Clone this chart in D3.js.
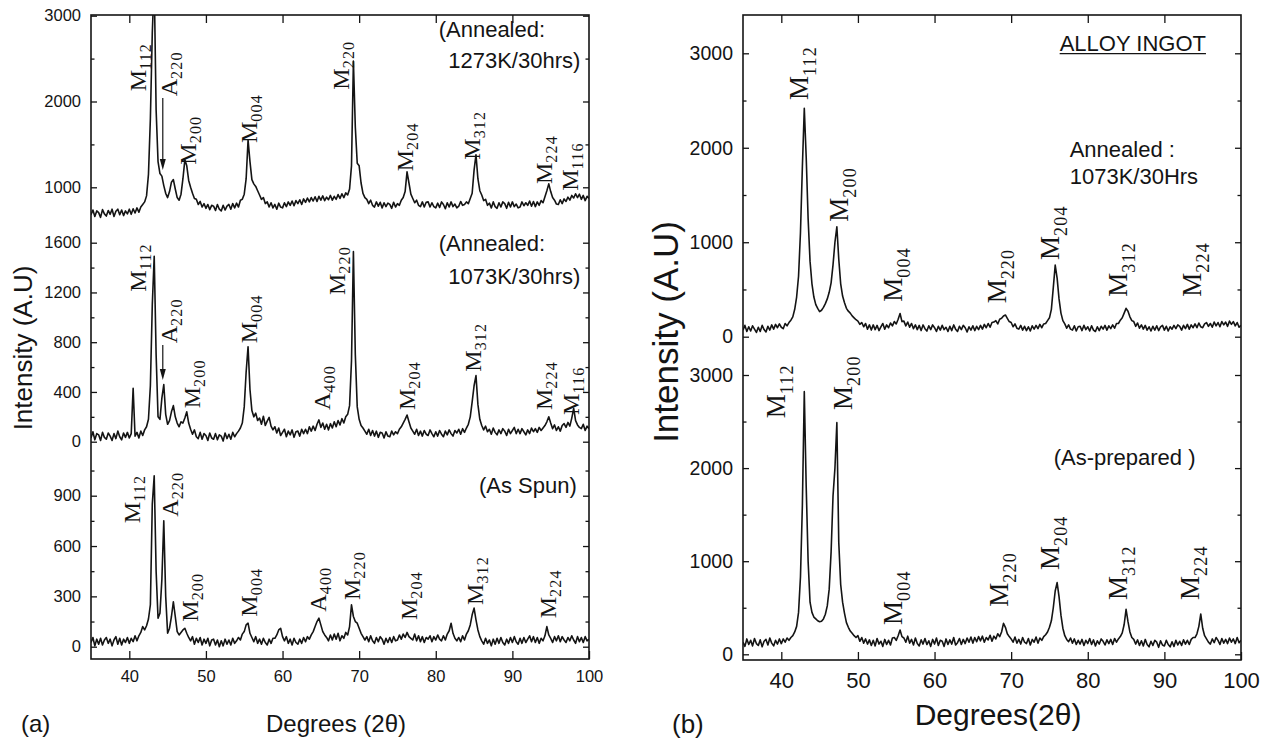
<!DOCTYPE html>
<html><head><meta charset="utf-8">
<script src="https://cdn.jsdelivr.net/npm/d3@7"></script>
<style>body{margin:0;background:#fff}svg{display:block}</style>
</head><body>
<svg id="c" width="1270" height="744"></svg>
<script>
// ---- sampling grid (2theta, degrees) ----
const thetaStart = 35, thetaStep = 0.25, nPoints = 261;
const twoTheta = d3.range(nPoints).map(i => thetaStart + i * thetaStep);

// ---- (a) Annealed 1273K/30hrs ----
const a1273 = [
680,735,660,725, 705,650,740,690, 665,730,685,745, 660,720,745,680, 735,670,725,690,
745,685,750,700, 760,710,770,800, 830,900,1150,1800, 2800,3400,1900,1300, 1160,1130,1020,930,
880,950,1060,1090, 980,880,850,920, 1100,1320,1250,1080, 1000,930,870,860, 800,835,770,810,
755,800,740,790, 780,730,800,745, 725,790,735,780, 800,745,810,760, 815,770,850,860,
920,1100,1550,1300, 1090,1040,1010,960, 910,860,880,810, 830,770,820,760, 800,745,815,770,
760,820,775,830, 790,840,785,845, 810,855,800,865, 825,875,830,880, 840,890,835,895,
850,900,845,885, 855,905,850,895, 860,915,870,925, 880,935,910,980, 1250,2470,1700,1280,
1250,1050,930,880, 860,810,850,790, 770,830,780,825, 760,820,775,815, 800,755,825,770,
810,790,850,880, 950,1180,1050,920, 870,820,850,790, 775,830,770,825, 830,770,820,775,
760,815,765,830, 800,750,820,770, 830,775,805,760, 780,835,790,800, 830,810,870,930,
1200,1380,1100,960, 910,845,860,790, 815,760,830,775, 755,820,770,830, 810,755,825,770,
830,775,805,760, 770,830,785,820, 790,840,780,835, 775,830,790,845, 820,890,960,1040,
950,880,850,805, 800,855,810,865, 835,885,850,905, 875,925,880,920, 860,905,845,895,
870];

// ---- (a) Annealed 1073K/30hrs ----
const a1073 = [
30,80,15,65, 55,10,75,35, 20,70,45,10, 65,25,85,40, 15,70,35,75,
30,65,430,45, 75,30,85,50, 95,120,180,450, 1100,1490,700,200, 180,350,460,220,
140,170,240,290, 200,150,120,160, 150,190,240,150, 100,60,95,40, 25,75,20,65,
50,10,70,30, 20,65,15,55, 45,5,70,25, 60,20,75,40, 65,85,110,150,
280,560,764,420, 250,200,230,170, 190,140,205,130, 165,195,125,95, 120,70,110,50,
75,100,40,85, 55,95,35,80, 85,45,100,65, 100,65,120,85, 125,90,140,175,
115,150,100,140, 95,145,110,160, 120,170,135,185, 150,200,220,290, 650,1528,700,280,
180,130,110,85, 60,100,50,90, 45,85,35,75, 70,30,80,45, 40,85,55,80,
65,100,120,150, 180,214,160,110, 85,60,100,50, 85,45,90,60, 50,95,65,40,
80,45,90,60, 40,85,55,95, 65,45,90,70, 100,60,105,75, 110,140,200,320,
450,531,300,180, 130,95,125,80, 100,60,110,75, 55,95,65,105, 85,50,100,65,
90,115,65,100, 65,105,80,55, 95,65,110,80, 105,75,115,90, 110,130,160,200,
150,105,135,90, 120,85,130,145, 115,155,125,190, 268,170,135,115, 105,140,90,125,
105];

// ---- (a) As spun ----
const aSpun = [
25,55,5,45, 15,50,10,40, 55,20,45,5, 40,60,15,50, 10,45,25,55,
20,50,30,65, 35,65,85,120, 100,125,165,250, 850,1018,450,170, 200,400,750,300,
80,110,180,268, 180,90,70,85, 100,110,80,55, 35,60,15,50, 25,55,10,45,
20,50,5,40, 45,10,40,0, 35,5,45,15, 40,10,50,20, 35,55,40,75,
90,130,140,80, 55,30,60,20, 45,15,50,25, 10,45,20,50, 50,70,100,110,
60,35,60,20, 45,10,50,25, 15,45,20,55, 30,60,45,70, 90,120,150,170,
130,90,70,55, 35,70,40,75, 45,80,35,65, 50,85,70,120, 250,180,150,140,
110,80,60,40, 60,30,65,35, 20,55,30,60, 45,15,50,25, 55,25,60,35,
40,70,45,75, 55,85,60,50, 40,75,35,65, 30,60,25,55, 45,65,30,60,
40,70,45,35, 65,40,75,95, 140,80,50,35, 55,30,65,40, 75,95,130,190,
230,160,100,60, 35,15,50,20, 40,5,45,15, 50,20,55,25, 10,45,20,55,
25,60,30,15, 50,20,55,25, 45,65,30,60, 25,55,20,50, 35,65,120,70,
50,25,60,35, 65,30,60,40, 25,55,35,65, 40,20,60,30, 55,25,60,35,
45];

// ---- (b) Alloy ingot, annealed 1073K/30Hrs ----
const bAnnealed = [
70,120,55,105, 60,115,80,45, 100,55,120,75, 50,110,70,125, 80,130,95,135,
100,85,140,115, 150,175,210,290, 420,640,1100,1800, 2417,1900,1250,800, 560,420,340,300,
265,280,310,350, 400,470,570,760, 1000,1164,820,560, 430,360,300,270, 250,220,200,180,
165,130,150,105, 140,80,125,70, 125,75,120,65, 105,140,80,125, 95,145,115,160,
135,185,245,160, 165,115,155,100, 140,85,125,75, 120,65,125,85, 60,115,75,125,
95,55,110,70, 120,75,100,55, 110,65,125,80, 55,110,75,120, 95,50,105,70,
115,65,110,75, 120,80,130,95, 140,100,150,155, 170,135,185,195, 220,230,195,160,
150,105,135,90, 80,120,70,110, 65,105,60,115, 80,120,85,130, 95,135,140,170,
200,290,520,758, 620,400,250,170, 135,90,125,80, 70,115,60,105, 110,65,120,75,
105,60,115,70, 55,105,65,110, 80,120,70,115, 85,125,90,140, 140,175,200,250,
300,270,210,170, 160,110,145,90, 125,80,120,70, 105,60,110,70, 115,65,105,120,
70,110,60,105, 80,120,85,125, 110,70,120,85, 130,80,125,95, 135,95,145,105,
95,135,150,110, 140,100,155,115, 150,105,160,125, 155,110,165,130, 160,115,150,100,
120];

// ---- (b) Alloy ingot, as-prepared ----
const bPrepared = [
130,85,165,105, 150,90,170,115, 95,155,80,140, 160,100,175,120, 90,150,110,165,
115,165,130,175, 150,180,200,240, 300,450,830,1600, 2821,1800,1000,560, 450,400,380,360,
350,355,380,430, 520,700,1100,1700, 2000,2488,1200,750, 560,440,340,290, 250,225,200,180,
200,140,180,120, 165,110,155,95, 150,90,170,110, 140,85,160,105, 150,100,175,180,
150,200,261,190, 175,130,195,120, 160,100,175,115, 90,155,110,170, 105,145,85,160,
110,175,95,150, 140,85,165,105, 155,110,180,100, 125,170,105,160, 115,175,130,185,
120,180,135,190, 145,195,130,180, 155,205,140,195, 165,220,190,240, 333,290,220,190,
165,130,185,120, 160,110,180,130, 115,170,100,160, 130,185,120,175, 150,190,210,240,
290,360,500,680, 770,620,420,280, 200,160,135,175, 120,165,105,150, 110,160,95,150,
115,170,105,155, 90,145,110,165, 140,100,155,115, 160,105,170,130, 165,190,230,320,
483,350,240,180, 160,110,155,95, 145,90,160,105, 80,140,95,150, 130,75,145,100,
90,150,105,80, 135,85,150,100, 140,95,155,110, 150,105,160,180, 180,220,300,433,
280,200,165,130, 110,165,125,180, 150,105,170,120, 160,115,175,130, 165,115,180,125,
150];

// ---- tick values ----
const xTicks = [40,50,60,70,80,90,100];
const aTopMajor = [1000,2000,3000], aTopMinor = [1500,2500];
const aMidMajor = [0,400,800,1200,1600], aMidMinor = [200,600,1000,1400];
const aBotMajor = [0,300,600,900], aBotMinor = [150,450,750,1050];
const bMajor = [0,1000,2000,3000], bMinor = [500,1500,2500];

// ---- peak labels: [letter, index, 2theta of glyph centre, intensity at text foot] ----
const lblA1273 = [["M","112",41.13,2119],["A","220",45.13,2061],["M","200",47.62,1264],["M","004",55.62,1516],
  ["M","220",67.6,2138],["M","204",76.03,1187],["M","312",84.73,1322],["M","224",94.12,1038],["M","116",97.52,960]];
const lblA1073 = [["M","112",41.13,1206],["A","220",45.13,791],["M","200",48.13,268],["M","004",55.62,791],
  ["A","400",65.12,255],["M","220",67.13,1179],["M","204",76.23,255],["M","312",84.88,563],["M","224",94.12,255],["M","116",97.63,215]];
const lblASpun = [["M","112",40.38,736],["A","220",45.38,775],["M","200",47.97,149],["M","004",55.62,179],
  ["A","400",64.63,209],["M","220",69.13,278],["M","204",76.53,159],["M","312",85.12,249],["M","224",94.65,169]];
const lblBAnn = [["M","112",42.26,2505],["M","200",47.5,1217],["M","004",54.58,370],["M","220",68.2,353],
  ["M","204",75.02,812],["M","312",83.93,423],["M","224",93.63,423]];
const lblBPrep = [["M","112",39.37,2535],["M","200",48.03,2624],["M","004",54.58,315],["M","220",68.46,511],
  ["M","204",75.02,905],["M","312",83.93,583],["M","224",93.37,583]];

// arrows: [2theta, intensity from, intensity to]
const arrowA1273 = [[44.37,2040,1202]];
const arrowA1073 = [[44.37,777,496]];

// ---- drawing ----
const svg = d3.select("#c");
const SANS = "'Liberation Sans', Arial, Helvetica, sans-serif";
const SERIF = "'Liberation Serif', 'Times New Roman', serif";
const INK = "#141414";

const xA = d3.scaleLinear().domain([35,100]).range([91,589]);
const yATop = d3.scaleLinear().domain([1000,3000]).range([187.3,15.7]);
const yAMid = d3.scaleLinear().domain([0,1600]).range([441.7,242.7]);
const yABot = d3.scaleLinear().domain([0,900]).range([646.7,495.7]);
const xB = d3.scaleLinear().domain([35,100]).range([743,1241]);
const yBTop = d3.scaleLinear().domain([0,3000]).range([336.7,53.3]);
const yBBot = d3.scaleLinear().domain([0,3000]).range([654.3,375]);

const defs = svg.append("defs");
function makeClip(id, x, top, bottom) {
  const [x0,x1] = x.range();
  defs.append("clipPath").attr("id", id).append("rect")
    .attr("x", x0).attr("y", top).attr("width", x1-x0).attr("height", bottom-top);
}
makeClip("clipA", xA, 15, 659);
makeClip("clipB", xB, 15, 660);

function series(x, y, vals, clip) {
  const line = d3.line().x((d,i) => x(twoTheta[i])).y(d => y(d));
  svg.append("path").datum(vals).attr("clip-path", `url(#${clip})`)
    .attr("d", line).attr("fill","none").attr("stroke", INK)
    .attr("stroke-width", 1.6).attr("stroke-linejoin","round");
}

function styleAxis(g, fs) {
  g.select(".domain").remove();
  g.attr("font-family", SANS).attr("font-size", fs);
  g.selectAll("line").attr("stroke", INK).attr("stroke-width", 1.3);
  g.selectAll("text").attr("fill", INK);
}

function yAxes(x, y, major, minor, fs, pad) {
  const [x0,x1] = x.range();
  svg.append("g").attr("transform",`translate(${x0},0)`)
    .call(d3.axisLeft(y).tickValues(major).tickSize(-6).tickPadding(pad).tickFormat(d3.format("d")))
    .call(g => styleAxis(g, fs));
  svg.append("g").attr("transform",`translate(${x0},0)`)
    .call(d3.axisLeft(y).tickValues(minor).tickSize(-3.5).tickFormat(""))
    .call(g => styleAxis(g, fs));
  svg.append("g").attr("transform",`translate(${x1},0)`)
    .call(d3.axisRight(y).tickValues(major).tickSize(-6).tickFormat(""))
    .call(g => styleAxis(g, fs));
  svg.append("g").attr("transform",`translate(${x1},0)`)
    .call(d3.axisRight(y).tickValues(minor).tickSize(-3.5).tickFormat(""))
    .call(g => styleAxis(g, fs));
}

function xAxes(x, top, bottom, fs, pad) {
  svg.append("g").attr("transform",`translate(0,${bottom})`)
    .call(d3.axisBottom(x).tickValues(xTicks).tickSize(-8).tickPadding(pad).tickFormat(d3.format("d")))
    .call(g => styleAxis(g, fs));
  svg.append("g").attr("transform",`translate(0,${top})`)
    .call(d3.axisTop(x).tickValues(xTicks.slice(0,-1)).tickSize(-8).tickFormat(""))
    .call(g => styleAxis(g, fs));
}

function frame(x, top, bottom) {
  const [x0,x1] = x.range();
  svg.append("rect").attr("x",x0).attr("y",top).attr("width",x1-x0).attr("height",bottom-top)
    .attr("fill","none").attr("stroke",INK).attr("stroke-width",1.6);
}

function peakLabels(x, y, list, F, Fs, drop) {
  list.forEach(([m, sub, deg, v]) => {
    const t = svg.append("text")
      .attr("transform", `translate(${x(deg) + 0.331*F},${y(v)}) rotate(-90)`)
      .attr("font-family", SERIF).attr("fill", INK);
    t.append("tspan").attr("font-size", F).text(m);
    t.append("tspan").attr("font-size", Fs).attr("letter-spacing", 1.2).attr("dy", drop).text(sub);
  });
}

function arrows(x, y, list) {
  list.forEach(([deg, v0, v1]) => {
    const px = x(deg), y0 = y(v0), y1 = y(v1);
    svg.append("line").attr("x1",px).attr("x2",px).attr("y1",y0).attr("y2",y1-6)
      .attr("stroke",INK).attr("stroke-width",1.2);
    svg.append("path").attr("d",`M${px-3},${y1-11}L${px+3},${y1-11}L${px},${y1}Z`).attr("fill",INK);
  });
}

function note(x, y, txt, deg, v, fs) {
  return svg.append("text").attr("x", x(deg)).attr("y", y(v))
    .attr("font-family", SANS).attr("font-size", fs).attr("fill", INK)
    .attr("xml:space","preserve").text(txt);
}

// ---------- panel (a) ----------
series(xA, yATop, a1273, "clipA");
series(xA, yAMid, a1073, "clipA");
series(xA, yABot, aSpun, "clipA");
frame(xA, 15, 659);
yAxes(xA, yATop, aTopMajor, aTopMinor, 16.5, 10);
yAxes(xA, yAMid, aMidMajor, aMidMinor, 16.5, 10);
yAxes(xA, yABot, aBotMajor, aBotMinor, 16.5, 10);
xAxes(xA, 15, 659, 16.5, 11);
peakLabels(xA, yATop, lblA1273, 24, 16, 5);
peakLabels(xA, yAMid, lblA1073, 24, 16, 5);
peakLabels(xA, yABot, lblASpun, 24, 16, 5);
arrows(xA, yATop, arrowA1273);
arrows(xA, yAMid, arrowA1073);
note(xA, yATop, "(Annealed:", 80.38, 2746, 22);
note(xA, yATop, "1273K/30hrs)", 81.63, 2396, 22);
note(xA, yAMid, "(Annealed:", 80.38, 1533, 22);
note(xA, yAMid, "1073K/30hrs)", 81.63, 1268, 22);
note(xA, yABot, "(As Spun)", 85.64, 919, 22);

svg.append("text").attr("transform","translate(32,348) rotate(-90)").attr("text-anchor","middle")
  .attr("font-family",SANS).attr("font-size",26).attr("fill",INK).text("Intensity (A.U)");
svg.append("text").attr("x",336).attr("y",732).attr("text-anchor","middle")
  .attr("font-family",SANS).attr("font-size",24).attr("fill",INK).text("Degrees (2θ)");
svg.append("text").attr("x",21).attr("y",732)
  .attr("font-family",SANS).attr("font-size",24).attr("fill",INK).text("(a)");

// ---------- panel (b) ----------
series(xB, yBTop, bAnnealed, "clipB");
series(xB, yBBot, bPrepared, "clipB");
frame(xB, 15, 660);
yAxes(xB, yBTop, bMajor, bMinor, 19.5, 10);
yAxes(xB, yBBot, bMajor, bMinor, 19.5, 10);
xAxes(xB, 15, 660, 22, 12);
peakLabels(xB, yBTop, lblBAnn, 27, 18, 8);
peakLabels(xB, yBBot, lblBPrep, 27, 18, 8);
const ingot = note(xB, yBTop, "ALLOY INGOT", 76.33, 3023, 22);
const ib = ingot.node().getBBox();
svg.append("line").attr("x1", ib.x).attr("x2", ib.x + ib.width)
  .attr("y1", yBTop(3023) + 2.5).attr("y2", yBTop(3023) + 2.5)
  .attr("stroke", INK).attr("stroke-width", 1.4);
note(xB, yBTop, "Annealed :", 77.64, 1902, 22);
note(xB, yBTop, "1073K/30Hrs", 77.64, 1616, 22);
note(xB, yBBot, "(As-prepared )", 75.55, 2033, 22);

svg.append("text").attr("transform","translate(678,332) rotate(-90)").attr("text-anchor","middle")
  .attr("font-family",SANS).attr("font-size",35).attr("fill",INK).text("Intensity (A.U)");
svg.append("text").attr("x",998).attr("y",724.5).attr("text-anchor","middle")
  .attr("font-family",SANS).attr("font-size",30).attr("fill",INK).text("Degrees(2θ)");
svg.append("text").attr("x",672).attr("y",733)
  .attr("font-family",SANS).attr("font-size",26).attr("fill",INK).text("(b)");
</script>
</body></html>
